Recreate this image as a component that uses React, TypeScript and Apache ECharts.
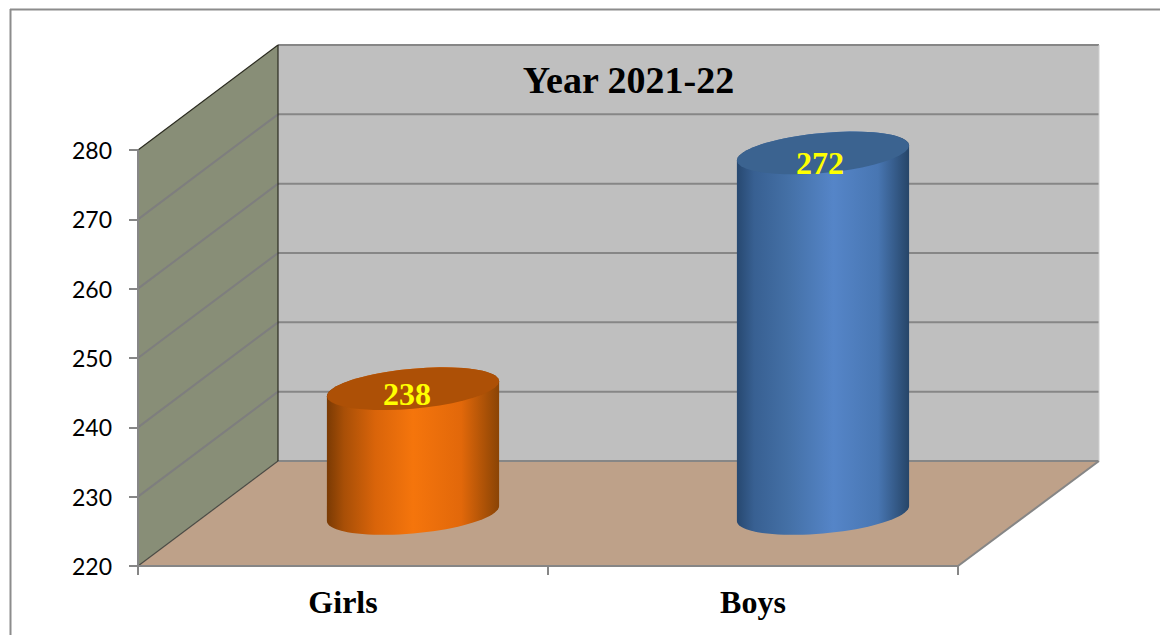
import React, { useEffect, useRef } from "react";
import * as echarts from "echarts";

const categories = ["Girls", "Boys"];
const values = [238, 272];
const yTicks = [220, 230, 240, 250, 260, 270, 280];
const chartTitle = "Year 2021-22";

const barLooks = [
  {
    top: "#ad5006",
    stops: ["#7a3a04", "#a84f07", "#d9640a", "#f5750c", "#e2680a", "#8a4405"],
    stopAt: [0, 0.1, 0.28, 0.5, 0.78, 1],
    labelDx: -6,
    labelDy: 5,
  },
  {
    top: "#3b6390",
    stops: ["#274870", "#386092", "#4470a6", "#5585c8", "#4876b2", "#264568"],
    stopAt: [0, 0.1, 0.3, 0.56, 0.82, 1],
    labelDx: -3,
    labelDy: 10,
  },
];

const DEPTH_X = 140;
const DEPTH_Y = -105;
const BACK_RIGHT_EXTRA = 1;
const AXIS_COLOR = "#868686";

function ellipsePoints(cx: number, cy: number, rx: number, from: number, to: number) {
  const a = (-7.5 / 86) * rx;
  const b = (20 / 86) * rx;
  const pts: number[][] = [];
  const n = 40;
  for (let i = 0; i <= n; i++) {
    const t = from + ((to - from) * i) / n;
    pts.push([cx + rx * Math.cos(t), cy + a * Math.cos(t) + b * Math.sin(t)]);
  }
  return pts;
}

function renderWalls(params: any, api: any) {
  const cs = params.coordSys;
  const x0 = cs.x;
  const x1 = cs.x + cs.width;
  const xBack = x1 + DEPTH_X + BACK_RIGHT_EXTRA;
  const yB = cs.y + cs.height;
  const yT = cs.y;
  const children: any[] = [
    {
      type: "polygon",
      shape: { points: [[x0 + DEPTH_X, yT + DEPTH_Y], [xBack, yT + DEPTH_Y], [xBack, yB + DEPTH_Y], [x0 + DEPTH_X, yB + DEPTH_Y]] },
      style: { fill: "#bfbfbf" },
    },
    {
      type: "polygon",
      shape: { points: [[x0, yB], [x0 + DEPTH_X, yB + DEPTH_Y], [x0 + DEPTH_X, yT + DEPTH_Y], [x0, yT]] },
      style: { fill: "#888e77" },
    },
    {
      type: "polygon",
      shape: { points: [[x0, yB], [x1, yB], [xBack, yB + DEPTH_Y], [x0 + DEPTH_X, yB + DEPTH_Y]] },
      style: { fill: "#bea189" },
    },
  ];
  const line = (a: number[], b: number[], stroke: string, lineWidth: number) => ({
    type: "line",
    shape: { x1: a[0], y1: a[1], x2: b[0], y2: b[1] },
    style: { stroke, lineWidth, fill: null },
  });
  yTicks.forEach((tick) => {
    const y = api.coord([0, tick])[1];
    children.push(line([x0 + DEPTH_X, y + DEPTH_Y], [xBack, y + DEPTH_Y], AXIS_COLOR, 2));
    if (tick !== 220 && tick !== 280) {
      children.push(line([x0, y], [x0 + DEPTH_X, y + DEPTH_Y], "#7e7e7e", 2));
    }
  });
  children.push(line([x0, yT], [x0 + DEPTH_X, yT + DEPTH_Y], "#2b2b20", 1.2));
  children.push(line([x0, yB], [x0 + DEPTH_X, yB + DEPTH_Y], "#4a4a44", 1.2));
  children.push(line([x0 + DEPTH_X, yT + DEPTH_Y], [x0 + DEPTH_X, yB + DEPTH_Y], "#2b2b20", 1.2));
  children.push(line([x1, yB], [xBack, yB + DEPTH_Y], AXIS_COLOR, 2));
  children.push(line([xBack, yT + DEPTH_Y], [xBack, yB + DEPTH_Y], "#d0d0d0", 1));
  return { type: "group", children };
}

function renderCylinder(params: any, api: any) {
  const idx = api.value(0);
  const val = api.value(1);
  const look = barLooks[params.dataIndex];
  const top = api.coord([idx, val]);
  const base = api.coord([idx, yTicks[0]]);
  const rx = api.size([1, 0])[0] * 0.21;
  const cx = top[0] + DEPTH_X / 2;
  const cyTop = top[1] + DEPTH_Y / 2;
  const cyBase = base[1] + DEPTH_Y / 2;
  const body = [
    ...ellipsePoints(cx, cyBase, rx, 0, Math.PI),
    ...ellipsePoints(cx, cyTop, rx, Math.PI, 2 * Math.PI),
  ];
  return {
    type: "group",
    children: [
      {
        type: "polygon",
        shape: { points: body },
        style: {
          fill: new echarts.graphic.LinearGradient(
            0, 0, 1, 0,
            look.stops.map((color, i) => ({ offset: look.stopAt[i], color }))
          ),
        },
      },
      {
        type: "polygon",
        shape: { points: ellipsePoints(cx, cyTop, rx, 0, 2 * Math.PI) },
        style: { fill: look.top },
      },
      {
        type: "text",
        x: cx + look.labelDx,
        y: cyTop + look.labelDy,
        style: {
          text: String(val),
          fill: "#ffff00",
          font: 'bold 32px "Liberation Serif"',
          align: "center",
          verticalAlign: "middle",
        },
      },
    ],
  };
}

export default function App() {
  const ref = useRef<HTMLDivElement>(null);
  useEffect(() => {
    const chart = echarts.init(ref.current!, null, { renderer: "svg" });
    chart.setOption({
      animation: false,
      backgroundColor: "#ffffff",
      title: {
        text: chartTitle,
        left: 623.5,
        top: 56,
        textAlign: "center",
        textStyle: { fontFamily: "Liberation Serif", fontWeight: "bold", fontSize: 38, color: "#000000" },
      },
      graphic: [
        { type: "line", shape: { x1: 10, y1: 9.5, x2: 1160, y2: 9.5 }, style: { stroke: "#8c8c8c", lineWidth: 2 }, z: 10 },
        { type: "line", shape: { x1: 10.5, y1: 9, x2: 10.5, y2: 635 }, style: { stroke: "#8c8c8c", lineWidth: 2 }, z: 10 },
      ],
      grid: { left: 138, right: 202, top: 150, bottom: 69 },
      xAxis: {
        type: "category",
        data: categories,
        z: 5,
        axisLine: { lineStyle: { color: AXIS_COLOR, width: 2 } },
        axisTick: { show: true, alignWithLabel: false, length: 9, lineStyle: { color: AXIS_COLOR, width: 2 } },
        axisLabel: {
          fontFamily: "Liberation Serif",
          fontWeight: "bold",
          fontSize: 32,
          color: "#000000",
          margin: 20,
        },
      },
      yAxis: {
        type: "value",
        min: 220,
        max: 280,
        interval: 10,
        z: 5,
        splitLine: { show: false },
        axisLine: { show: true, lineStyle: { color: AXIS_COLOR, width: 2 } },
        axisTick: { show: true, length: 9, lineStyle: { color: AXIS_COLOR, width: 2 } },
        axisLabel: { fontFamily: "Lato", fontSize: 23, color: "#000000", margin: 26 },
      },
      series: [
        {
          type: "custom",
          z: 1,
          silent: true,
          renderItem: renderWalls,
          data: [[0, yTicks[0]]],
          encode: { x: 0, y: 1 },
        },
        {
          type: "custom",
          z: 3,
          silent: true,
          renderItem: renderCylinder,
          data: categories.map((_, i) => [i, values[i]]),
          encode: { x: 0, y: 1 },
        },
      ],
    });
    return () => chart.dispose();
  }, []);
  return <div ref={ref} style={{ position: "fixed", left: 0, top: 0, width: 1160, height: 635 }} />;
}
